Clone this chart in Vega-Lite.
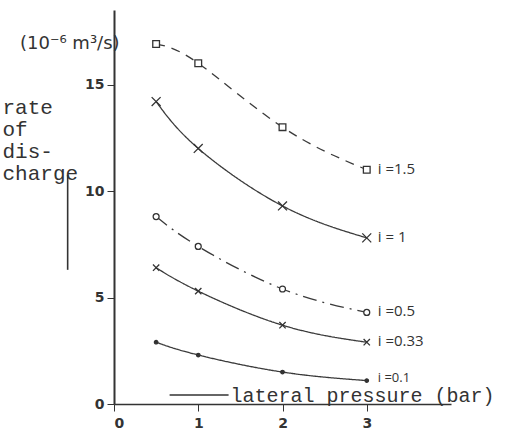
{
  "$schema": "https://vega.github.io/schema/vega-lite/v6.json",
  "width": 337,
  "height": 394,
  "autosize": {"type": "none"},
  "padding": {"left": 114, "top": 10, "right": 62, "bottom": 30},
  "background": "white",
  "title": {
    "text": "(10⁻⁶ m³/s)",
    "anchor": "start",
    "frame": "group",
    "font": "DejaVu Sans",
    "fontSize": 18,
    "fontWeight": "normal",
    "color": "#333",
    "baseline": "middle",
    "offset": 0,
    "dx": -94,
    "dy": 52
  },
  "config": {
    "view": {"stroke": null},
    "font": "DejaVu Sans",
    "axis": {
      "grid": false,
      "domainColor": "#333",
      "tickColor": "#333",
      "labelColor": "#333",
      "titleColor": "#333",
      "labelFont": "DejaVu Sans",
      "labelFontSize": 14,
      "labelFontWeight": "bold",
      "tickSize": 7
    }
  },
  "datasets": {
    "curves": [
      {"i": "1.5", "p": 0.5, "q": 16.9, "label": "i =1.5"},
      {"i": "1.5", "p": 1, "q": 16.0, "label": "i =1.5"},
      {"i": "1.5", "p": 2, "q": 13.0, "label": "i =1.5"},
      {"i": "1.5", "p": 3, "q": 11.0, "label": "i =1.5"},
      {"i": "1", "p": 0.5, "q": 14.2, "label": "i = 1"},
      {"i": "1", "p": 1, "q": 12.0, "label": "i = 1"},
      {"i": "1", "p": 2, "q": 9.3, "label": "i = 1"},
      {"i": "1", "p": 3, "q": 7.8, "label": "i = 1"},
      {"i": "0.5", "p": 0.5, "q": 8.8, "label": "i =0.5"},
      {"i": "0.5", "p": 1, "q": 7.4, "label": "i =0.5"},
      {"i": "0.5", "p": 2, "q": 5.4, "label": "i =0.5"},
      {"i": "0.5", "p": 3, "q": 4.3, "label": "i =0.5"},
      {"i": "0.33", "p": 0.5, "q": 6.4, "label": "i =0.33"},
      {"i": "0.33", "p": 1, "q": 5.3, "label": "i =0.33"},
      {"i": "0.33", "p": 2, "q": 3.7, "label": "i =0.33"},
      {"i": "0.33", "p": 3, "q": 2.9, "label": "i =0.33"},
      {"i": "0.1", "p": 0.5, "q": 2.9, "label": "i =0.1"},
      {"i": "0.1", "p": 1, "q": 2.3, "label": "i =0.1"},
      {"i": "0.1", "p": 2, "q": 1.5, "label": "i =0.1"},
      {"i": "0.1", "p": 3, "q": 1.1, "label": "i =0.1"}
    ],
    "marks": [
      {"x": -0.55, "x2": -0.55, "y": 6.3, "y2": 10.75},
      {"x": 0.66, "x2": 1.36, "y": 0.42, "y2": 0.42}
    ]
  },
  "layer": [
    {
      "data": {"name": "curves"},
      "mark": {"type": "line", "interpolate": "natural", "strokeWidth": 1.3, "color": "#3a3a3a"},
      "encoding": {
        "x": {
          "field": "p", "type": "quantitative",
          "scale": {"domain": [0, 4], "nice": false},
          "axis": {
            "values": [0, 1, 2, 3],
            "format": "d",
            "domainWidth": 1.6,
            "labelPadding": 5,
            "title": "lateral pressure (bar)",
            "titleFont": "Liberation Mono",
            "titleFontSize": 20,
            "titleFontWeight": "normal",
            "titleAlign": "left",
            "titleBaseline": "alphabetic",
            "titleX": 116,
            "titleY": -3
          }
        },
        "y": {
          "field": "q", "type": "quantitative",
          "scale": {"domain": [0, 18.5], "nice": false},
          "axis": {
            "values": [0, 5, 10, 15],
            "format": "d",
            "domainWidth": 2,
            "labelPadding": 3,
            "title": ["rate", "of", "dis-", "charge"],
            "titleFont": "Liberation Mono",
            "titleFontSize": 21,
            "titleFontWeight": "normal",
            "titleLineHeight": 22,
            "titleAngle": 0,
            "titleAlign": "left",
            "titleBaseline": "alphabetic",
            "titleX": -112,
            "titleY": 103
          }
        },
        "detail": {"field": "i"},
        "strokeDash": {
          "field": "i", "type": "nominal", "legend": null,
          "scale": {
            "domain": ["1.5", "1", "0.5", "0.33", "0.1"],
            "range": [[9, 7], [1, 0], [14, 6, 2, 6], [1, 0], [1, 0]]
          }
        }
      }
    },
    {
      "data": {"name": "curves"},
      "mark": {"type": "point", "filled": true, "stroke": "#333", "strokeWidth": 1.3, "opacity": 1},
      "encoding": {
        "x": {"field": "p", "type": "quantitative"},
        "y": {"field": "q", "type": "quantitative"},
        "shape": {
          "field": "i", "type": "nominal", "legend": null,
          "scale": {
            "domain": ["1.5", "1", "0.5", "0.33", "0.1"],
            "range": ["square", "M-1,-1L1,1M-1,1L1,-1", "circle", "M-1,-1L1,1M-1,1L1,-1", "circle"]
          }
        },
        "size": {
          "field": "i", "type": "nominal", "legend": null,
          "scale": {
            "type": "ordinal",
            "domain": ["1.5", "1", "0.5", "0.33", "0.1"],
            "range": [45, 80, 35, 40, 12]
          }
        },
        "fill": {
          "field": "i", "type": "nominal", "legend": null,
          "scale": {
            "domain": ["1.5", "1", "0.5", "0.33", "0.1"],
            "range": ["white", "white", "white", "white", "#333"]
          }
        }
      }
    },
    {
      "data": {"name": "curves"},
      "transform": [{"filter": "datum.p == 3 && datum.i != '0.1'"}],
      "mark": {"type": "text", "align": "left", "baseline": "middle", "dx": 11, "dy": -1, "font": "Open Sans", "fontSize": 15, "color": "#333"},
      "encoding": {
        "x": {"field": "p", "type": "quantitative"},
        "y": {"field": "q", "type": "quantitative"},
        "text": {"field": "label"}
      }
    },
    {
      "data": {"name": "curves"},
      "transform": [{"filter": "datum.p == 3 && datum.i == '0.1'"}],
      "mark": {"type": "text", "align": "left", "baseline": "middle", "dx": 11, "dy": -3, "font": "Open Sans", "fontSize": 13, "color": "#333"},
      "encoding": {
        "x": {"field": "p", "type": "quantitative"},
        "y": {"field": "q", "type": "quantitative"},
        "text": {"field": "label"}
      }
    },
    {
      "data": {"name": "marks"},
      "mark": {"type": "rule", "color": "#333", "strokeWidth": 1.6},
      "encoding": {
        "x": {"field": "x", "type": "quantitative"},
        "x2": {"field": "x2"},
        "y": {"field": "y", "type": "quantitative"},
        "y2": {"field": "y2"}
      }
    }
  ]
}
